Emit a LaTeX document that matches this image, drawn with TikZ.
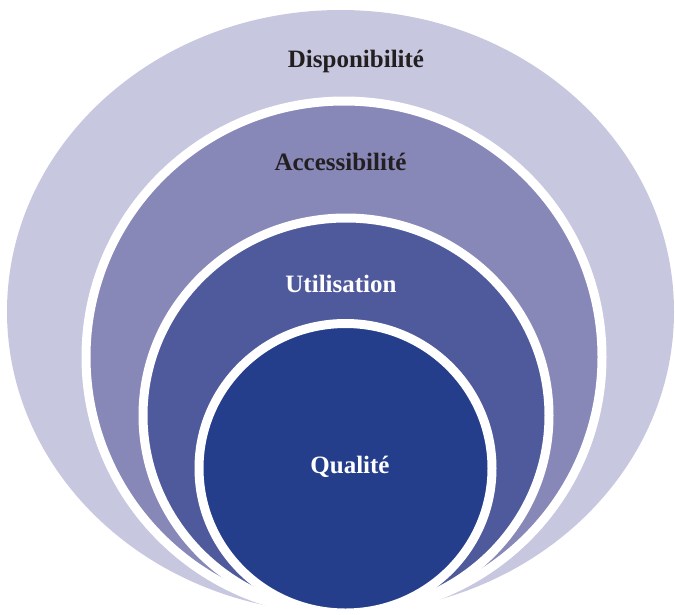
\documentclass[tikz,border=0pt]{standalone}
\usepackage{fontspec}
\setmainfont{Liberation Serif}
\begin{document}
\begin{tikzpicture}[x=1pt,y=-1pt,
  ring/.style={draw=white,line width=9pt},
  lbl/.style={font=\bfseries\fontsize{25}{29}\selectfont,anchor=base,inner sep=0pt},
  darklbl/.style={lbl,text=txtdark},
  lightlbl/.style={lbl,text=white}]
\definecolor{dispo}{RGB}{199,199,224}
\definecolor{access}{RGB}{135,135,184}
\definecolor{utilis}{RGB}{79,90,157}
\definecolor{qual}{RGB}{37,62,140}
\definecolor{txtdark}{RGB}{35,31,32}
\useasboundingbox (0,0) rectangle (675,614);
\clip (0,0) rectangle (675,614);
% nested levels, all resting on the same bottom point
\fill[dispo] (340.5,311.5) ellipse [x radius=333.5pt, y radius=301.5pt];
\filldraw[fill=access,ring] (344,357) ellipse [x radius=258pt, y radius=256pt];
\filldraw[fill=utilis,ring] (346,415.5) ellipse [x radius=203pt, y radius=197.5pt];
\filldraw[fill=qual,ring] (345.5,468.25) ellipse [x radius=146.5pt, y radius=144.75pt];
% level labels
\node[darklbl] (dispoLbl) at (356,67) {Disponibilité};
\node[darklbl] (accessLbl) at (340.5,170) {Accessibilité};
\node[lightlbl] (utilisLbl) at (341,292) {Utilisation};
\node[lightlbl] (qualLbl) at (350,473) {Qualité};
\end{tikzpicture}
\end{document}
